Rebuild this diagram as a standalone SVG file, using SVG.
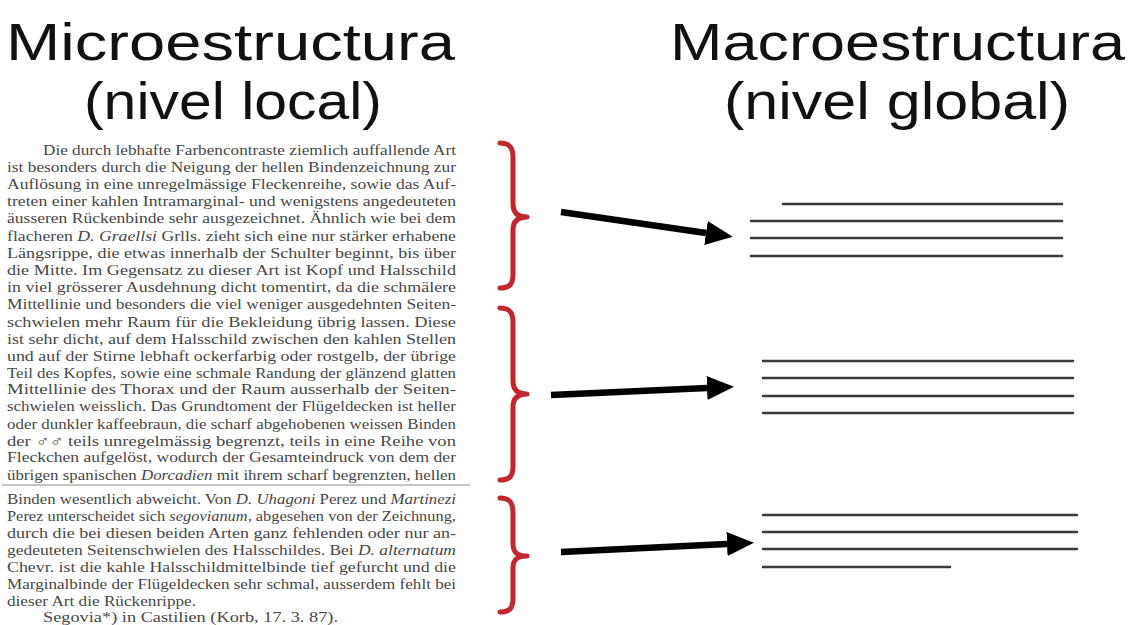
<svg xmlns="http://www.w3.org/2000/svg" width="1132" height="625" viewBox="0 0 1132 625">
<style>
.h{font-family:"Liberation Sans",Arial,sans-serif;font-size:52px;fill:#111}
.b{font-family:"Liberation Serif","DejaVu Serif",serif;font-size:14px;fill:#474747}
.brace{fill:none;stroke:#c1272d;stroke-width:5;stroke-linecap:round;stroke-linejoin:round}
.arrow{fill:none;stroke:#000;stroke-width:6.5;marker-end:url(#ah)}
.ln{stroke:#3a3a3a;stroke-width:2.6;stroke-linecap:round}
</style>
<defs>
<marker id="ah" markerUnits="userSpaceOnUse" markerWidth="30" markerHeight="26" refX="0" refY="12" orient="auto" viewBox="0 0 30 24">
<path d="M0,0 L27,12 L0,24 Z" fill="#000"/>
</marker>
</defs>
<rect width="1132" height="625" fill="#fff"/>

<g id="title-micro">
<text class="h" x="6" y="60" textLength="449" lengthAdjust="spacingAndGlyphs">Microestructura</text>
<text class="h" x="84" y="119" textLength="298" lengthAdjust="spacingAndGlyphs">(nivel local)</text>
</g>
<g id="title-macro">
<text class="h" x="670" y="60" textLength="455" lengthAdjust="spacingAndGlyphs">Macroestructura</text>
<text class="h" x="724" y="119" textLength="346" lengthAdjust="spacingAndGlyphs">(nivel global)</text>
</g>

<g id="text-block">
<text class="b" x="43" y="155" textLength="413" lengthAdjust="spacingAndGlyphs">Die durch lebhafte Farbencontraste ziemlich auffallende Art</text>
<text class="b" x="7" y="172" textLength="449" lengthAdjust="spacingAndGlyphs">ist besonders durch die Neigung der hellen Bindenzeichnung zur</text>
<text class="b" x="7" y="189" textLength="449" lengthAdjust="spacingAndGlyphs">Auflösung in eine unregelmässige Fleckenreihe, sowie das Auf-</text>
<text class="b" x="7" y="206" textLength="449" lengthAdjust="spacingAndGlyphs">treten einer kahlen Intramarginal- und wenigstens angedeuteten</text>
<text class="b" x="7" y="223" textLength="449" lengthAdjust="spacingAndGlyphs">äusseren Rückenbinde sehr ausgezeichnet. Ähnlich wie bei dem</text>
<text class="b" x="7" y="240.5" textLength="449" lengthAdjust="spacingAndGlyphs">flacheren <tspan font-style="italic">D. Graellsi</tspan> Grlls. zieht sich eine nur stärker erhabene</text>
<text class="b" x="7" y="257.5" textLength="449" lengthAdjust="spacingAndGlyphs">Längsrippe, die etwas innerhalb der Schulter beginnt, bis über</text>
<text class="b" x="7" y="275" textLength="449" lengthAdjust="spacingAndGlyphs">die Mitte. Im Gegensatz zu dieser Art ist Kopf und Halsschild</text>
<text class="b" x="7" y="292" textLength="449" lengthAdjust="spacingAndGlyphs">in viel grösserer Ausdehnung dicht tomentirt, da die schmälere</text>
<text class="b" x="7" y="309" textLength="449" lengthAdjust="spacingAndGlyphs">Mittellinie und besonders die viel weniger ausgedehnten Seiten-</text>
<text class="b" x="7" y="326.5" textLength="449" lengthAdjust="spacingAndGlyphs">schwielen mehr Raum für die Bekleidung übrig lassen. Diese</text>
<text class="b" x="7" y="343.5" textLength="449" lengthAdjust="spacingAndGlyphs">ist sehr dicht, auf dem Halsschild zwischen den kahlen Stellen</text>
<text class="b" x="7" y="360.5" textLength="449" lengthAdjust="spacingAndGlyphs">und auf der Stirne lebhaft ockerfarbig oder rostgelb, der übrige</text>
<text class="b" x="7" y="377.5" textLength="449" lengthAdjust="spacingAndGlyphs">Teil des Kopfes, sowie eine schmale Randung der glänzend glatten</text>
<text class="b" x="7" y="394" textLength="449" lengthAdjust="spacingAndGlyphs">Mittellinie des Thorax und der Raum ausserhalb der Seiten-</text>
<text class="b" x="7" y="411" textLength="449" lengthAdjust="spacingAndGlyphs">schwielen weisslich. Das Grundtoment der Flügeldecken ist heller</text>
<text class="b" x="7" y="428.5" textLength="449" lengthAdjust="spacingAndGlyphs">oder dunkler kaffeebraun, die scharf abgehobenen weissen Binden</text>
<text class="b" x="7" y="445.5" textLength="449" lengthAdjust="spacingAndGlyphs">der ♂♂ teils unregelmässig begrenzt, teils in eine Reihe von</text>
<text class="b" x="7" y="462" textLength="449" lengthAdjust="spacingAndGlyphs">Fleckchen aufgelöst, wodurch der Gesamteindruck von dem der</text>
<text class="b" x="7" y="479.5" textLength="449" lengthAdjust="spacingAndGlyphs">übrigen spanischen <tspan font-style="italic">Dorcadien</tspan> mit ihrem scharf begrenzten, hellen</text>
<line x1="2" y1="485" x2="470" y2="485" stroke="#8a8a8a" stroke-width="1"/>
<text class="b" x="7" y="503.5" textLength="449" lengthAdjust="spacingAndGlyphs">Binden wesentlich abweicht. Von <tspan font-style="italic">D. Uhagoni</tspan> Perez und <tspan font-style="italic">Martinezi</tspan></text>
<text class="b" x="7" y="520.5" textLength="449" lengthAdjust="spacingAndGlyphs">Perez unterscheidet sich <tspan font-style="italic">segovianum</tspan>, abgesehen von der Zeichnung,</text>
<text class="b" x="7" y="537.5" textLength="449" lengthAdjust="spacingAndGlyphs">durch die bei diesen beiden Arten ganz fehlenden oder nur an-</text>
<text class="b" x="7" y="554.5" textLength="449" lengthAdjust="spacingAndGlyphs">gedeuteten Seitenschwielen des Halsschildes. Bei <tspan font-style="italic">D. alternatum</tspan></text>
<text class="b" x="7" y="571.5" textLength="449" lengthAdjust="spacingAndGlyphs">Chevr. ist die kahle Halsschildmittelbinde tief gefurcht und die</text>
<text class="b" x="7" y="588.5" textLength="449" lengthAdjust="spacingAndGlyphs">Marginalbinde der Flügeldecken sehr schmal, ausserdem fehlt bei</text>
<text class="b" x="7" y="605.5" textLength="189" lengthAdjust="spacingAndGlyphs">dieser Art die Rückenrippe.</text>
<text class="b" x="43" y="622" textLength="295" lengthAdjust="spacingAndGlyphs">Segovia*) in Castilien (Korb, 17. 3. 87).</text>
</g>

<g id="brace-1"><path class="brace" d="M500,143 C510,143 513,148 513,158 L513,204 C513,212 517,217 527,217 C517,217 513,222 513,230 L513,274 C513,284 510,288 500,288"/></g>
<g id="brace-2"><path class="brace" d="M500,308 C510,308 513,313 513,323 L513,381 C513,389 517,394 527,394 C517,394 513,399 513,407 L513,466 C513,476 510,480 500,480"/></g>
<g id="brace-3"><path class="brace" d="M500,498 C510,498 513,503 513,513 L513,544 C513,552 517,556 527,556 C517,556 513,560 513,568 L513,598 C513,608 510,612 500,612"/></g>

<g id="connectors">
<path class="arrow" d="M561,212 L706,233"/>
<path class="arrow" d="M551,395 L707,388"/>
<path class="arrow" d="M561,552 L727,544"/>
</g>

<g id="lines-1">
<line class="ln" x1="783" y1="204" x2="1062" y2="204"/>
<line class="ln" x1="751" y1="221" x2="1062" y2="221"/>
<line class="ln" x1="751" y1="238" x2="1062" y2="238"/>
<line class="ln" x1="751" y1="256" x2="1062" y2="256"/>
</g>
<g id="lines-2">
<line class="ln" x1="763" y1="361" x2="1073" y2="361"/>
<line class="ln" x1="763" y1="378" x2="1073" y2="378"/>
<line class="ln" x1="763" y1="396" x2="1073" y2="396"/>
<line class="ln" x1="763" y1="413" x2="1073" y2="413"/>
</g>
<g id="lines-3">
<line class="ln" x1="763" y1="515" x2="1077" y2="515"/>
<line class="ln" x1="763" y1="532" x2="1077" y2="532"/>
<line class="ln" x1="763" y1="549" x2="1077" y2="549"/>
<line class="ln" x1="763" y1="567" x2="950" y2="567"/>
</g>
</svg>
